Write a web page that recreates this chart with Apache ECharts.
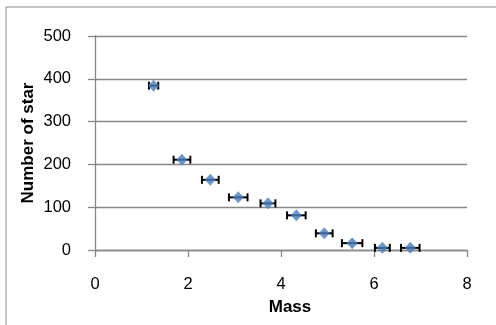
<!DOCTYPE html>
<html>
<head>
<meta charset="utf-8">
<script src="https://cdn.jsdelivr.net/npm/echarts@6/dist/echarts.min.js"></script>
<style>
  html, body { margin: 0; padding: 0; background: #fff; }
  #chart { width: 496px; height: 325px; }
</style>
</head>
<body>
<div id="chart"></div>
<script>
// star counts per mass bin
const mass = [1.26, 1.87, 2.48, 3.08, 3.72, 4.33, 4.93, 5.53, 6.18, 6.78];
const stars = [384, 211, 164, 123, 109, 81, 39, 16, 5, 5];
const massErr = [0.1, 0.18, 0.18, 0.2, 0.16, 0.2, 0.18, 0.22, 0.16, 0.2];
const xTicks = [0, 2, 4, 6, 8];
const yTicks = [0, 100, 200, 300, 400, 500];

const FONT = 'Liberation Sans';
const GRID_COLOR = '#878787';

let chart = echarts.init(document.getElementById('chart'));

const points = mass.map((m, i) => [m, stars[i]]);
const errData = mass.map((m, i) => [m - massErr[i], m + massErr[i], stars[i]]);

// horizontal error bar with end caps
function renderErr(params, api) {
    let l = api.coord([api.value(0), api.value(2)]);
    let r = api.coord([api.value(1), api.value(2)]);
    const cap = 4;
    const style = { stroke: '#000', lineWidth: 2 };
    return {
        type: 'group',
        children: [
            { type: 'line', shape: { x1: l[0], y1: l[1], x2: r[0], y2: r[1] }, style: style },
            { type: 'line', shape: { x1: l[0], y1: l[1] - cap, x2: l[0], y2: l[1] + cap }, style: style },
            { type: 'line', shape: { x1: r[0], y1: r[1] - cap, x2: r[0], y2: r[1] + cap }, style: style }
        ]
    };
}

const option = {
    animation: false,
    backgroundColor: '#fff',
    graphic: [{
        type: 'rect',
        shape: { x: 6, y: 7, width: 520, height: 340 },
        style: { fill: 'none', stroke: '#8c8c8c', lineWidth: 1 },
        silent: true
    }],
    grid: {
        left: 95,
        right: 29,
        top: 36,
        bottom: 75
    },
    xAxis: {
        type: 'value',
        min: 0,
        max: 8,
        interval: 2,
        name: 'Mass',
        nameLocation: 'middle',
        nameGap: 49,
        nameMoveOverlap: false,
        nameTextStyle: { fontFamily: FONT, fontSize: 17, fontWeight: 'bold', color: '#000', padding: [0, 0, 0, 18] },
        axisLine: { show: true, onZero: false, lineStyle: { color: GRID_COLOR, width: 1.3 } },
        axisTick: { show: true, length: 7, lineStyle: { color: GRID_COLOR, width: 1.3 } },
        axisLabel: {
            fontFamily: FONT, fontSize: 16.5, color: '#000', margin: 26,
            formatter: v => xTicks.includes(v) ? String(v) : ''
        },
        splitLine: { show: false }
    },
    yAxis: {
        type: 'value',
        min: 0,
        max: 500,
        interval: 100,
        name: 'Number of star',
        nameLocation: 'middle',
        nameGap: 58,
        nameMoveOverlap: false,
        nameTextStyle: { fontFamily: FONT, fontSize: 17, fontWeight: 'bold', color: '#000' },
        axisLine: { show: true, lineStyle: { color: GRID_COLOR, width: 1.3 } },
        axisTick: { show: true, inside: false, length: 7, lineStyle: { color: GRID_COLOR, width: 1.3 } },
        axisLabel: {
            fontFamily: FONT, fontSize: 16.5, color: '#000', margin: 24,
            formatter: v => yTicks.includes(v) ? String(v) : ''
        },
        splitLine: { show: true, lineStyle: { color: GRID_COLOR, width: 1.3 } }
    },
    series: [
        {
            name: 'Mass error',
            type: 'custom',
            renderItem: renderErr,
            encode: { x: [0, 1], y: 2 },
            data: errData,
            z: 2
        },
        {
            name: 'Number of star',
            type: 'scatter',
            symbol: 'diamond',
            symbolSize: [11, 12],
            itemStyle: { color: '#4a7ebb' },
            data: points,
            z: 3
        }
    ]
};

chart.setOption(option);
</script>
</body>
</html>
